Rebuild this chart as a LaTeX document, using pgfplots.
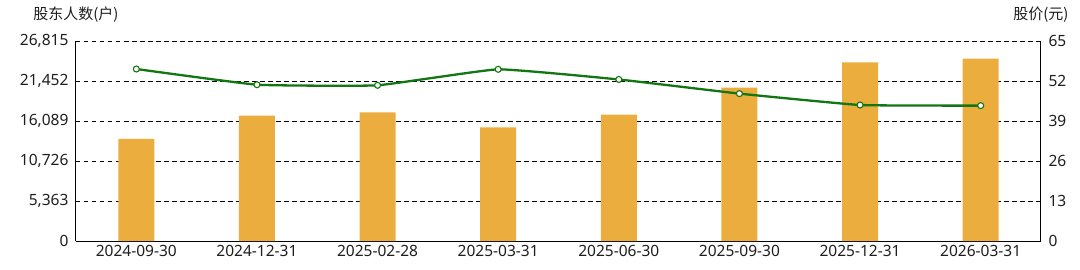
\documentclass[border=0pt]{standalone}
\usepackage{pgfplots}
\pgfplotsset{compat=1.18}
\usepackage{fontspec}
\setmainfont{Noto Sans}
\newfontfamily\cjk{Noto Sans CJK SC}
\definecolor{barc}{RGB}{235,174,62}
\definecolor{linec}{RGB}{18,118,18}
\definecolor{txt}{RGB}{30,30,30}
\begin{document}
\begin{tikzpicture}[x=1pt,y=1pt]
\path[use as bounding box] (0,0) rectangle (1080,269);
\begin{axis}[
  at={(76pt,28pt)}, anchor=south west,
  scale only axis, width=965pt, height=200pt,
  xmin=-0.5, xmax=7.5, ymin=0, ymax=26815,
  scaled y ticks=false,
  axis y line*=left, axis x line*=bottom,
  axis line style={black, line width=1pt},
  xtick={0,...,7},
  xticklabels={2024-09-30,2024-12-31,2025-02-28,2025-03-31,2025-06-30,2025-09-30,2025-12-31,2026-03-31},
  ytick={0,5363,10726,16089,21452,26815},
  yticklabels={0,{5,363},{10,726},{16,089},{21,452},{26,815}},
  major tick length=0pt,
  tick label style={font=\fontsize{15.5}{17}\selectfont, text=txt},
  xticklabel style={yshift=-1pt},
  yticklabel style={xshift=-4pt},
  ymajorgrids, grid style={black, dash pattern=on 4.5pt off 3.5pt, line width=1pt},
  /pgf/number format/assume math mode=true,
  clip=false,
]
\addplot[ybar, bar width=36pt, fill=barc, draw=none] coordinates {
 (0,13680) (1,16800) (2,17245) (3,15234) (4,16937) (5,20557) (6,23950) (7,24447)};
\end{axis}
\begin{axis}[
  at={(76pt,28pt)}, anchor=south west,
  scale only axis, width=965pt, height=200pt,
  xmin=-0.5, xmax=7.5, ymin=0, ymax=65,
  axis y line*=right, axis x line=none,
  axis line style={black, line width=1pt},
  ytick={0,13,26,39,52,65},
  major tick length=0pt,
  tick label style={font=\fontsize{15.5}{17}\selectfont, text=txt},
  yticklabel style={xshift=4pt},
  /pgf/number format/assume math mode=true,
  clip=false,
]
\addplot[linec, line width=2.3pt, smooth, tension=0.2, mark=*, mark size=3pt,
  mark options={fill=white, draw=linec, line width=1.1pt}] coordinates {
 (0,55.9) (1,50.8) (2,50.6) (3,55.8) (4,52.5) (5,47.9) (6,44.2) (7,44.0)};
\node[font=\cjk\fontsize{15}{17}\selectfont, text=txt] at (rel axis cs:0,1) [yshift=26pt] {股东人数(户)};
\node[font=\cjk\fontsize{15}{17}\selectfont, text=txt] at (rel axis cs:1,1) [yshift=26pt] {股价(元)};
\end{axis}
\end{tikzpicture}
\end{document}
